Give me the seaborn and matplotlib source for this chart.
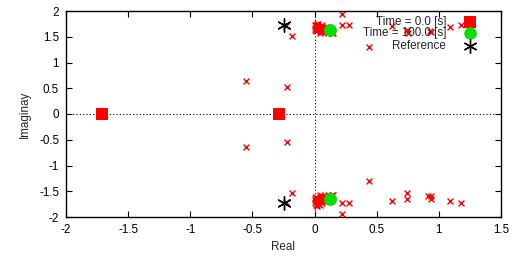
import matplotlib
matplotlib.use("Agg")
import matplotlib.pyplot as plt
import seaborn as sns

# eigenvalue traces (red x = intermediate times), upper half
trace_re_up = [-0.55, -0.225, -0.185, -0.23, 0.22, 0.22, 0.28, 0.44, 0.625, 0.74, 0.75, 0.93, 0.94, 1.09, 1.18,
               0.00, 0.01, 0.02, 0.03, 0.04, 0.05, 0.06, 0.07, 0.08, 0.09, 0.10, 0.11, 0.13, 0.14, 0.00, 0.02,
               0.04, 0.06, 0.01, 0.03, 0.05, 0.02, 0.04, 0.06, 0.08, 0.00, 0.03, 0.05, 0.07, 0.12, 0.15, 0.01]
trace_im_up = [0.64, 0.53, 1.52, 1.70, 1.94, 1.73, 1.73, 1.31, 1.70, 1.64, 1.58, 1.62, 1.59, 1.68, 1.73,
               1.72, 1.68, 1.65, 1.70, 1.62, 1.67, 1.72, 1.64, 1.60, 1.69, 1.62, 1.58, 1.60, 1.57, 1.63, 1.75,
               1.58, 1.60, 1.61, 1.66, 1.63, 1.70, 1.68, 1.66, 1.65, 1.67, 1.74, 1.71, 1.68, 1.59, 1.58, 1.73]
# lower half
trace_re_lo = [-0.55, -0.225, -0.185, -0.23, 0.22, 0.22, 0.28, 0.44, 0.625, 0.74, 0.74, 0.915, 0.936, 0.936, 1.09, 1.18,
               0.00, 0.01, 0.02, 0.03, 0.04, 0.05, 0.06, 0.07, 0.08, 0.09, 0.10, 0.11, 0.13, 0.14, 0.00, 0.02,
               0.04, 0.06, 0.01, 0.03, 0.05, 0.02, 0.04, 0.06, 0.08, 0.00, 0.03, 0.05, 0.07, 0.12, 0.15, 0.01]
trace_im_lo = [-0.635, -0.54, -1.53, -1.70, -1.95, -1.73, -1.72, -1.30, -1.69, -1.54, -1.65, -1.59, -1.59, -1.65, -1.68, -1.72,
               -1.72, -1.68, -1.65, -1.70, -1.62, -1.67, -1.72, -1.64, -1.60, -1.69, -1.62, -1.58, -1.60, -1.57, -1.63, -1.75,
               -1.58, -1.60, -1.61, -1.66, -1.63, -1.78, -1.76, -1.66, -1.65, -1.67, -1.74, -1.71, -1.68, -1.59, -1.58, -1.76]

t0_re = [-1.71, -0.285]
t0_im = [0.0, 0.0]

t100_re = [0.124, 0.124]
t100_im = [1.64, -1.65]

ref_re = [-0.25, -0.25]
ref_im = [1.72, -1.72]

legend_labels = ["Time = 0.0 [s]", "Time = 100.0 [s]", "Reference"]

sns.set_style("ticks")
plt.rcParams['font.family'] = ['Liberation Sans', 'DejaVu Sans']
plt.rcParams['font.size'] = 8.4

fig = plt.figure(figsize=(5.18, 2.59), dpi=100)
ax = fig.add_axes([66/518, 1 - 217/259, 435/518, 206/259])

ax.axhline(0, color='black', lw=0.8, ls=(0, (1, 2)), zorder=1)
ax.axvline(0, color='black', lw=0.8, ls=(0, (1, 2)), zorder=1)

star = (6, 2, 0)
sns.scatterplot(x=trace_re_up + trace_re_lo, y=trace_im_up + trace_im_lo, marker='x', color='red',
                s=18, linewidth=1.0, ax=ax, zorder=2)
sns.scatterplot(x=t0_re, y=t0_im, marker='s', color='red', s=85, linewidth=0, ax=ax, zorder=3)
sns.scatterplot(x=t100_re, y=t100_im, marker='o', color='#00e000', s=85, linewidth=0, ax=ax, zorder=4)
sns.scatterplot(x=ref_re, y=ref_im, marker=star, color='black', s=95, linewidth=1.0, ax=ax, zorder=5)

ax.set_xlim(-2, 1.5)
ax.set_ylim(-2, 2)
ax.set_xticks([-2, -1.5, -1, -0.5, 0, 0.5, 1, 1.5])
ax.set_yticks([-2, -1.5, -1, -0.5, 0, 0.5, 1, 1.5, 2])
ax.set_xticklabels(['-2', '-1.5', '-1', '-0.5', '0', '0.5', '1', '1.5'])
ax.set_yticklabels(['-2', '-1.5', '-1', '-0.5', '0', '0.5', '1', '1.5', '2'])
ax.tick_params(direction='in', length=4, width=0.8, top=True, right=True, labelsize=8.4, pad=5, colors='black')
for sp in ax.spines.values():
    sp.set_linewidth(1.0)
    sp.set_color('black')

ax.set_xlabel('Real', fontsize=8.4, labelpad=4)
ax.set_ylabel('Imaginay', fontsize=8.4, labelpad=6)

# gnuplot-style key: right-justified text, marker on the right
key_styles = [dict(marker='s', color='red', ms=9, mew=0),
              dict(marker='o', color='#00e000', ms=9, mew=0),
              dict(marker=star, color='black', ms=10, mew=1.0)]
key_y = [0.945, 0.892, 0.832]
for lab, st, yy in zip(legend_labels, key_styles, key_y):
    ax.text(0.874, yy, lab, transform=ax.transAxes, ha='right', va='center', fontsize=8.4, zorder=6)
    ax.plot([0.929], [yy], transform=ax.transAxes, ls='none', clip_on=False, zorder=6, **st)

fig.savefig('out.png', dpi=100)
